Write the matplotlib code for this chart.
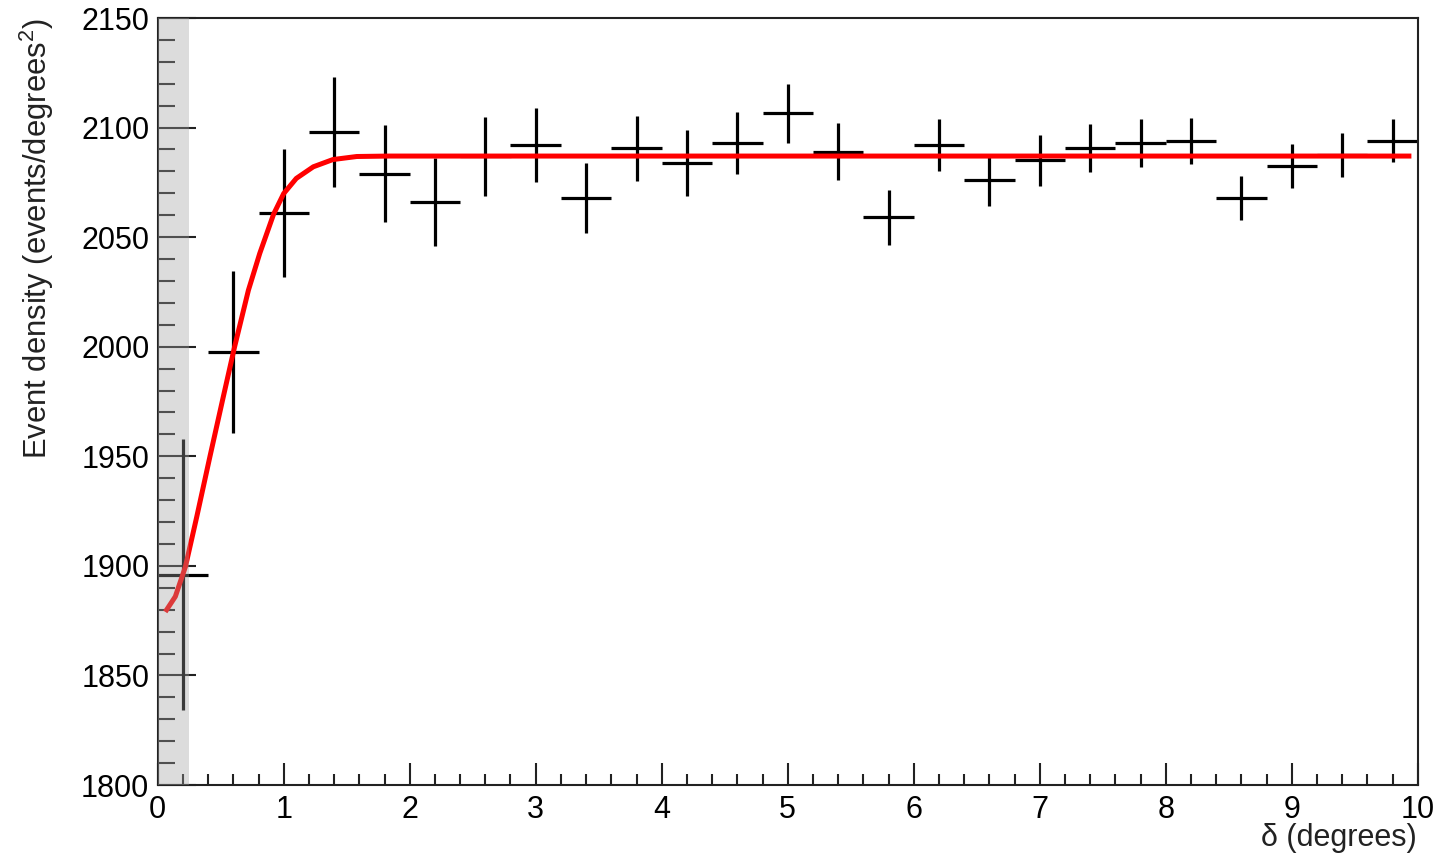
import matplotlib
matplotlib.use("Agg")
import matplotlib.pyplot as plt
from matplotlib.ticker import MultipleLocator

plt.rcParams['font.family'] = ['Liberation Sans', 'DejaVu Sans']
plt.rcParams['mathtext.fontset'] = 'custom'
plt.rcParams['mathtext.rm'] = 'Liberation Sans'

# Histogram bins (centre, half width 0.2 deg)
bin_centers = [0.2, 0.6, 1.0, 1.4, 1.8, 2.2, 2.6, 3.0, 3.4, 3.8, 4.2, 4.6, 5.0,
               5.4, 5.8, 6.2, 6.6, 7.0, 7.4, 7.8, 8.2, 8.6, 9.0, 9.4, 9.8]
density = [1896, 1997.5, 2061, 2098, 2079, 2066, 2087, 2092, 2068, 2090.5,
           2084, 2093, 2106.5, 2089, 2059, 2092, 2076, 2085, 2090.5, 2093,
           2094, 2068, 2082.5, 2087.5, 2094]
density_err = [62, 37, 29, 25, 22, 20, 18, 17, 16, 15, 15, 14, 13.5, 13,
               12.5, 12, 12, 11.5, 11, 11, 10.5, 10, 10, 10, 9.7]

# Fit curve
fit_x = [0.06, 0.14, 0.22, 0.31, 0.415, 0.52, 0.61, 0.72, 0.81,
         0.92, 1.0, 1.1, 1.235, 1.39, 1.58, 1.84, 9.95]
fit_y = [1879, 1886, 1899.6, 1922.4, 1950, 1977, 1999.9, 2025.8, 2042.6,
         2060.5, 2069.9, 2076.8, 2082.1, 2085.4, 2086.8, 2087, 2087]

excluded_max = 0.25

fig = plt.figure(figsize=(14.4, 8.56), dpi=100)
ax = fig.add_axes([157.7 / 1440, 1 - 785 / 856, 1260 / 1440, 767 / 856])

ax.errorbar(bin_centers, density, xerr=0.2, yerr=density_err, fmt='none',
            ecolor='black', elinewidth=2.3, capsize=0, zorder=2)
ax.plot(fit_x, fit_y, color='#ff0000', lw=3.6, solid_joinstyle='round',
        solid_capstyle='butt', zorder=2.2)
ax.axvspan(0, excluded_max, color='#a0a0a0', alpha=0.37, lw=0, zorder=3)

ax.set_xlim(0, 10)
ax.set_ylim(1800, 2150)
ax.xaxis.set_major_locator(MultipleLocator(1))
ax.xaxis.set_minor_locator(MultipleLocator(0.2))
ax.yaxis.set_major_locator(MultipleLocator(50))
ax.yaxis.set_minor_locator(MultipleLocator(10))

ax.tick_params(axis='both', which='both', direction='in', top=False,
               right=False, color='#222222', width=1.5, labelsize=22)
ax.tick_params(axis='y', which='major', length=27, pad=6)
ax.tick_params(axis='y', which='minor', length=12.5)
ax.tick_params(axis='x', which='major', length=16, pad=7)
ax.tick_params(axis='x', which='minor', length=8)
for s in ax.spines.values():
    s.set_linewidth(1.5)
    s.set_color('#222222')

fig.text(37 / 1440, 1 - 18 / 856, 'Event density (events/degrees$^{2}$)',
         rotation=90, ha='center', va='top', fontsize=22.3, color='#222222')
fig.text(1417 / 1440, 1 - 838 / 856, '\u03b4 (degrees)', ha='right',
         va='center', fontsize=22, color='#222222')

fig.savefig('out.png', dpi=100)
